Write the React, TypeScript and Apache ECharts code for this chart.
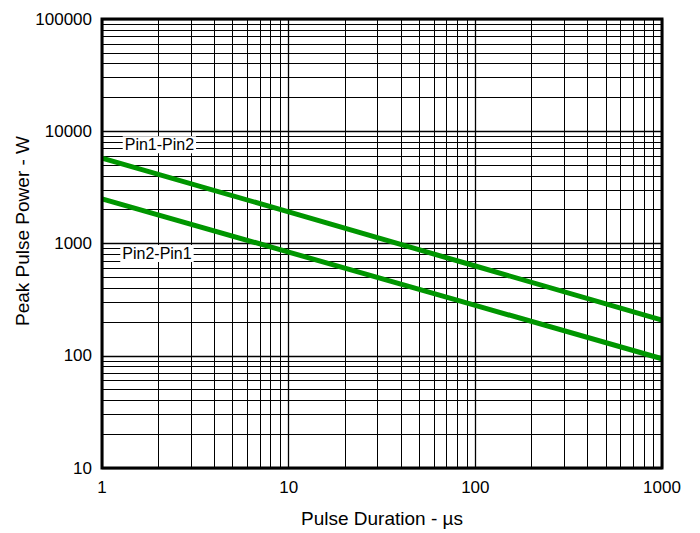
import React, { useEffect, useRef } from "react";
import * as echarts from "echarts";

// Pulse duration (µs) sample points
const durations = [1, 10, 100, 1000];
// Peak pulse power (W)
const pin1Pin2 = [5770, 1910, 630, 208];
const pin2Pin1 = [2500, 838, 281, 94];

// Minor grid positions (log decades × 2..9)
const xDecades = [1, 10, 100];
const yDecades = [10, 100, 1000, 10000];
const multipliers = [2, 3, 4, 5, 6, 7, 8, 9];

// Label anchor positions (data coords)
const labelPin1Pin2 = [2.03, 7600];
const labelPin2Pin1 = [1.97, 816];

const GREEN = "#009600";
const FONT = "Liberation Sans, Arial, sans-serif";

export default function App() {
  const ref = useRef<HTMLDivElement>(null);
  useEffect(() => {
    if (!ref.current) return;
    const chart = echarts.init(ref.current, null, { renderer: "svg" });
    const xMinor = xDecades.flatMap((d) => multipliers.map((m) => ({ xAxis: d * m })));
    const yMinor = yDecades.flatMap((d) => multipliers.map((m) => ({ yAxis: d * m })));
    const labelStyle = {
      show: true,
      color: "#000",
      fontSize: 16,
      fontFamily: FONT,
      backgroundColor: "#fff",
      padding: [1, 2, 0, 2],
      position: "inside",
    };
    chart.setOption({
      animation: false,
      backgroundColor: "#fff",
      textStyle: { fontFamily: FONT },
      grid: {
        left: 102,
        right: 38,
        top: 19,
        bottom: 59,
        show: true,
        borderColor: "#000",
        borderWidth: 3,
        backgroundColor: "transparent",
        z: 10,
      },
      graphic: [
        {
          type: "text",
          x: 22,
          y: 231,
          rotation: Math.PI / 2,
          style: {
            text: "Peak Pulse Power - W",
            fontSize: 19,
            fontFamily: FONT,
            fill: "#000",
            align: "center",
            verticalAlign: "middle",
          },
        },
      ],
      xAxis: {
        type: "log",
        logBase: 10,
        min: 1,
        max: 1000,
        name: "Pulse Duration - µs",
        nameLocation: "middle",
        nameGap: 41,
        nameTextStyle: { fontSize: 19, color: "#000" },
        axisLine: { show: false },
        axisTick: { show: false },
        axisLabel: { fontSize: 17, color: "#000", margin: 11, formatter: (v: number) => String(v) },
        splitLine: { show: true, lineStyle: { color: "#000", width: 1.3 } },
      },
      yAxis: {
        type: "log",
        logBase: 10,
        min: 10,
        max: 100000,
        axisLine: { show: false },
        axisTick: { show: false },
        axisLabel: { fontSize: 17, color: "#000", margin: 10, formatter: (v: number) => String(v) },
        splitLine: { show: true, lineStyle: { color: "#000", width: 1.3 } },
      },
      series: [
        {
          type: "line",
          data: [],
          silent: true,
          z: 1,
          markLine: {
            silent: true,
            symbol: ["none", "none"],
            label: { show: false },
            lineStyle: { color: "#000", width: 1, type: "solid" },
            emphasis: { disabled: true },
            data: [...xMinor, ...yMinor],
          },
        },
        {
          name: "Pin1-Pin2",
          type: "line",
          z: 5,
          symbol: "none",
          lineStyle: { color: GREEN, width: 5 },
          data: durations.map((d, i) => [d, pin1Pin2[i]]),
          markPoint: {
            symbol: "rect",
            symbolSize: 1,
            itemStyle: { color: "transparent" },
            label: { ...labelStyle, formatter: "Pin1-Pin2" },
            data: [{ coord: labelPin1Pin2 }],
          },
        },
        {
          name: "Pin2-Pin1",
          type: "line",
          z: 5,
          symbol: "none",
          lineStyle: { color: GREEN, width: 5 },
          data: durations.map((d, i) => [d, pin2Pin1[i]]),
          markPoint: {
            symbol: "rect",
            symbolSize: 1,
            itemStyle: { color: "transparent" },
            label: { ...labelStyle, formatter: "Pin2-Pin1" },
            data: [{ coord: labelPin2Pin1 }],
          },
        },
      ],
    });
    return () => chart.dispose();
  }, []);
  return <div ref={ref} style={{ width: 700, height: 533, position: "absolute", left: 0, top: 0 }} />;
}
